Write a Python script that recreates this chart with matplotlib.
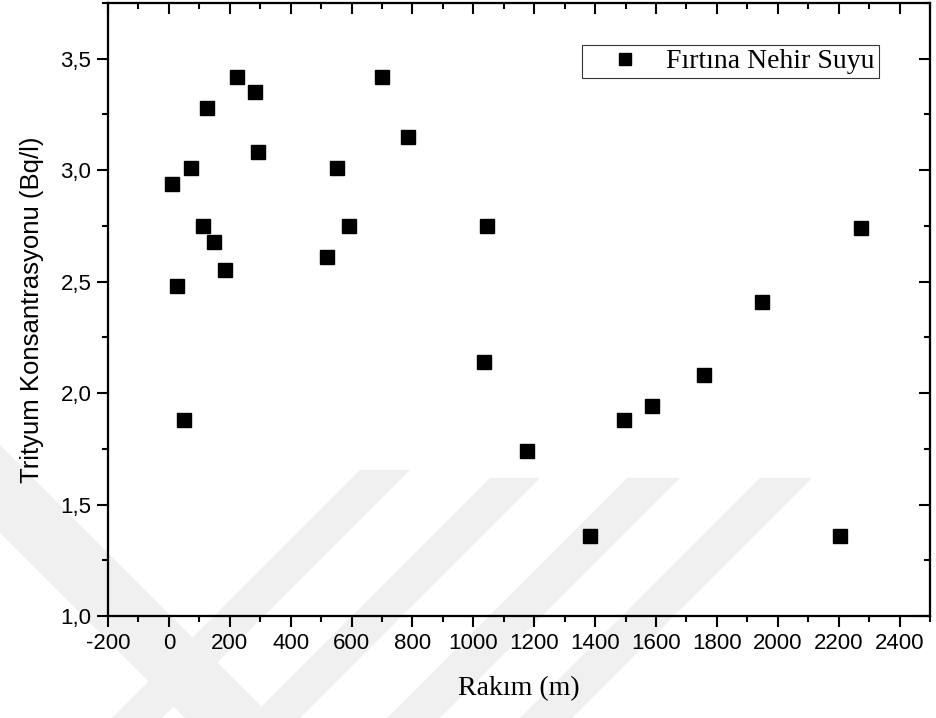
import matplotlib
matplotlib.use("Agg")
import matplotlib.pyplot as plt
from matplotlib.ticker import MultipleLocator, FuncFormatter
from matplotlib.patches import Polygon

altitude = [10, 27, 50, 73, 112, 125, 148, 184, 224, 283, 293, 519, 552, 592,
            700, 786, 1035, 1045, 1176, 1383, 1495, 1587, 1758, 1948, 2205, 2274]
tritium = [2.94, 2.48, 1.88, 3.01, 2.75, 3.28, 2.68, 2.55, 3.42, 3.35, 3.08, 2.61,
           3.01, 2.75, 3.42, 3.15, 2.14, 2.75, 1.74, 1.36, 1.88, 1.94, 2.08, 2.41,
           1.36, 2.74]
series_name = "Fırtına Nehir Suyu"
x_label = "Rakım (m)"
y_label = "Trityum Konsantrasyonu (Bq/l)"

W, H = 936, 718
fig = plt.figure(figsize=(W / 100, H / 100), dpi=100)

L, R, B, T = 108, 930, 616, 3
ax = fig.add_axes([L / W, 1 - B / H, (R - L) / W, (B - T) / H])
ax.set_facecolor("none")

ax.plot(altitude, tritium, linestyle="none", marker="s", markersize=9.5,
        color="black", label=series_name, zorder=5)

ax.set_xlim(-200, 2500)
ax.set_ylim(1.0, 3.75)
ax.xaxis.set_major_locator(MultipleLocator(200))
ax.xaxis.set_minor_locator(MultipleLocator(100))
ax.yaxis.set_major_locator(MultipleLocator(0.5))
ax.yaxis.set_minor_locator(MultipleLocator(0.25))
ax.yaxis.set_major_formatter(FuncFormatter(lambda v, p: f"{v:.1f}".replace(".", ",")))
ax.xaxis.set_major_formatter(FuncFormatter(lambda v, p: f"{v:.0f}"))

sans = "Liberation Sans"
serif = "Liberation Serif"
for s in ax.spines.values():
    s.set_linewidth(1.5)
ax.tick_params(which="major", direction="out", length=8, width=1.5,
               labelsize=16, pad=4, top=False, right=False)
ax.tick_params(which="minor", direction="out", length=4.5, width=1.5,
               top=False, right=False)
for lab in ax.get_xticklabels() + ax.get_yticklabels():
    lab.set_fontfamily(sans)

# mirrored inward ticks on top and right
axt = ax.twiny()
axt.set_xlim(ax.get_xlim())
axt.xaxis.set_major_locator(MultipleLocator(200))
axt.xaxis.set_minor_locator(MultipleLocator(100))
axt.tick_params(which="major", direction="in", length=8, width=1.5, labeltop=False)
axt.tick_params(which="minor", direction="in", length=4.5, width=1.5)
axr = ax.twinx()
axr.set_ylim(ax.get_ylim())
axr.yaxis.set_major_locator(MultipleLocator(0.5))
axr.yaxis.set_minor_locator(MultipleLocator(0.25))
axr.tick_params(which="major", direction="in", length=8, width=1.5, labelright=False)
axr.tick_params(which="minor", direction="in", length=4.5, width=1.5)
for a in (axt, axr):
    a.set_facecolor("none")
    for s in a.spines.values():
        s.set_linewidth(1.5)

ax.set_xlabel(x_label, fontfamily=serif, fontsize=20, labelpad=16)
ax.set_ylabel(y_label, fontfamily=sans, fontsize=18.5, labelpad=12)

leg = axr.legend(*ax.get_legend_handles_labels(), loc="upper right",
                 bbox_to_anchor=(0.938, 0.932), borderaxespad=0,
                 frameon=True, fancybox=False, edgecolor="black",
                 prop={"family": serif, "size": 20}, handlelength=2.8,
                 handletextpad=0.1, borderpad=0.15, markerscale=0.9)
leg.get_frame().set_linewidth(0.8)
leg.set_zorder(10)

# faint watermark shapes
wm = "#f0f0f0"
polys = [
    [(0, 445), (273, 718), (185, 718), (0, 533)],
    [(360, 470), (410, 470), (162, 718), (112, 718)],
    [(490, 478), (540, 478), (300, 718), (250, 718)],
    [(627, 478), (680, 478), (440, 718), (387, 718)],
    [(760, 478), (812, 478), (572, 718), (520, 718)],
]
for pts in polys:
    fig.patches.append(Polygon([(x / W, 1 - y / H) for x, y in pts], closed=True,
                               transform=fig.transFigure, facecolor=wm,
                               edgecolor="none", zorder=-10))

fig.savefig("out.png", dpi=100)
